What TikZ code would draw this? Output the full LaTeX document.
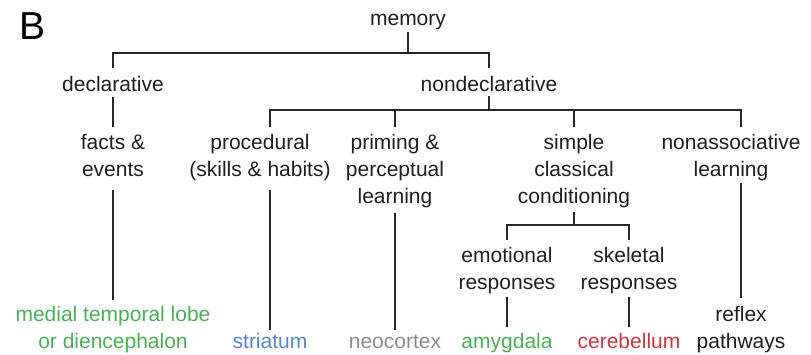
\documentclass[tikz,border=0pt]{standalone}
\usepackage{fontspec}
\setmainfont{Liberation Sans}
\definecolor{tgreen}{RGB}{72,176,84}
\definecolor{tblue}{RGB}{84,134,200}
\definecolor{tgray}{RGB}{140,140,140}
\definecolor{tred}{RGB}{205,52,62}
\definecolor{tink}{RGB}{30,30,30}
\definecolor{tline}{RGB}{40,40,40}
\begin{document}
\begin{tikzpicture}[x=1pt,y=-1pt,
  txt/.style={font=\fontsize{21}{27}\selectfont, align=center, inner sep=0pt, anchor=base, text=tink},
  conn/.style={draw=tline, line width=2pt}]
\useasboundingbox (0,0) rectangle (811,355);
\node[anchor=base west, inner sep=0pt, font=\fontsize{39}{39}\selectfont, text=black] (B) at (19,40) {B};
\node[txt] (mem) at (408,26) {memory};
\node[txt] (decl) at (113,92) {declarative};
\node[txt] (nond) at (489,92) {nondeclarative};
\node[txt] (facts) at (113,177) {facts \&\\events};
\node[txt] (proc) at (260,177) {procedural\\(skills \& habits)};
\node[txt] (prim) at (395,204) {priming \&\\perceptual\\learning};
\node[txt] (simp) at (574,204) {simple\\classical\\conditioning};
\node[txt] (nona) at (731,177) {nonassociative\\learning};
\node[txt] (emo) at (507,290) {emotional\\responses};
\node[txt] (ske) at (629,290) {skeletal\\responses};
\node[txt, text=tgreen] (mtl) at (113,348) {medial temporal lobe\\or diencephalon};
\node[txt, text=tblue] (str) at (270,348) {striatum};
\node[txt, text=tgray] (neo) at (395,348) {neocortex};
\node[txt, text=tgreen] (amy) at (507,348) {amygdala};
\node[txt, text=tred] (cer) at (629,348) {cerebellum};
\node[txt] (refl) at (741,348) {reflex\\pathways};
\coordinate (jm) at (408,53);
\coordinate (jn) at (489,110);
\coordinate (jc) at (574,225);
\draw[conn] ([yshift=-6pt]mem.base) -- (jm);
\draw[conn] ([yshift=24pt]decl.base) |- (jm) -| ([yshift=24pt]nond.base);
\draw[conn] ([yshift=-4pt]nond.base) -- (jn);
\draw[conn] ([xshift=10pt,yshift=50pt]proc.base) |- (jn) -| ([xshift=10pt,yshift=50pt]nona.base);
\draw[conn] (prim |- jn) -- ([yshift=77pt]prim.base);
\draw[conn] (simp |- jn) -- ([yshift=77pt]simp.base);
\draw[conn] ([yshift=-5pt]decl.base) -- ([yshift=50pt]facts.base);
\draw[conn] ([yshift=-13pt]facts.base) -- ([yshift=48pt]mtl.base);
\draw[conn] ([xshift=10pt,yshift=-13pt]proc.base) -- ([yshift=18pt]str.base);
\draw[conn] ([yshift=-9pt]prim.base) -- ([yshift=18pt]neo.base);
\draw[conn] ([yshift=-8pt]simp.base) -- (jc);
\draw[conn] ([yshift=50pt]emo.base) |- (jc) -| ([yshift=50pt]ske.base);
\draw[conn] ([yshift=-7pt]emo.base) -- ([yshift=21pt]amy.base);
\draw[conn] ([yshift=-7pt]ske.base) -- ([yshift=21pt]cer.base);
\draw[conn] ([xshift=10pt,yshift=-6pt]nona.base) -- ([yshift=50pt]refl.base);
\end{tikzpicture}
\end{document}
